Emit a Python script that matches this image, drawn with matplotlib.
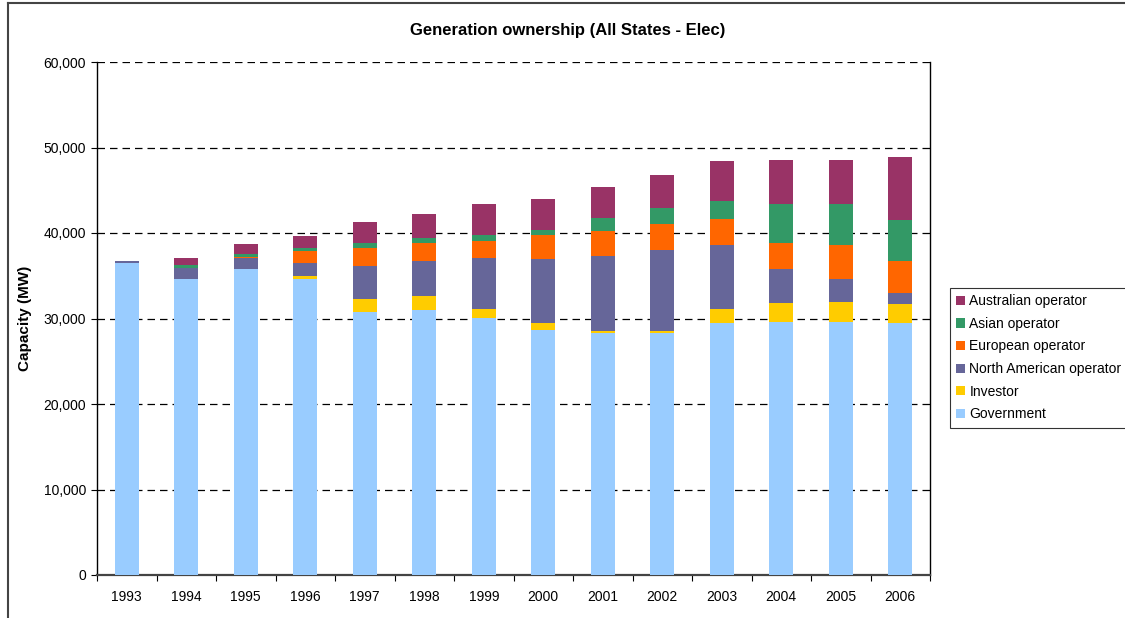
import matplotlib.pyplot as plt
from matplotlib.lines import Line2D
import numpy as np

plt.rcParams['font.family'] = ['Liberation Sans', 'DejaVu Sans']

years = ["1993", "1994", "1995", "1996", "1997", "1998", "1999",
         "2000", "2001", "2002", "2003", "2004", "2005", "2006"]

# capacity by owner type, MW
government = [36450, 34600, 35750, 34650, 30720, 30950, 30010,
              28600, 28290, 28270, 29460, 29540, 29540, 29460]
investor = [0, 0, 0, 280, 1530, 1640, 1090,
            830, 200, 220, 1610, 2230, 2350, 2190]
north_american = [250, 1300, 1300, 1570, 3860, 4140, 5950,
                  7530, 8790, 9500, 7500, 4030, 2690, 1330]
european = [0, 0, 150, 1400, 2120, 2110, 2030,
            2780, 2970, 3050, 3050, 3040, 3990, 3750]
asian = [0, 350, 300, 320, 600, 550, 700,
         590, 1490, 1870, 2110, 4540, 4810, 4770]
australian = [0, 800, 1200, 1400, 2450, 2810, 3600,
              3630, 3630, 3880, 4690, 5160, 5160, 7390]

series = [
    ("Government", government, "#99CCFF"),
    ("Investor", investor, "#FFCC00"),
    ("North American operator", north_american, "#666699"),
    ("European operator", european, "#FF6600"),
    ("Asian operator", asian, "#339966"),
    ("Australian operator", australian, "#993366"),
]

fig = plt.figure(figsize=(11.25, 6.18), dpi=100)
ax = fig.add_axes([97 / 1125, 43 / 618, 833 / 1125, 513 / 618])

x = np.arange(len(years))
bottom = np.zeros(len(years))
handles = []
for name, vals, color in series:
    b = ax.bar(x, vals, width=0.41, bottom=bottom, color=color, label=name,
               zorder=3, linewidth=0)
    handles.append(b)
    bottom += np.array(vals)

ax.set_xlim(-0.5, len(years) - 0.5)
ax.set_ylim(0, 60000)
ax.set_yticks(range(0, 60001, 10000))
ax.set_yticklabels([f"{v:,}" for v in range(0, 60001, 10000)], fontsize=10)
ax.yaxis.grid(True, color="black", linestyle=(0, (6, 4)), linewidth=0.9, zorder=1)
ax.set_axisbelow(True)

# ticks between categories, labels under bar centres
ax.set_xticks(np.arange(-0.5, len(years), 1.0))
ax.set_xticklabels([])
ax.set_xticks(x, minor=True)
ax.set_xticklabels(years, minor=True, fontsize=10)
ax.tick_params(axis="x", which="major", direction="out", length=4, width=0.8)
ax.tick_params(axis="x", which="minor", length=0, pad=11)
ax.tick_params(axis="y", direction="out", length=4, width=0.8, pad=4)

ax.spines["top"].set_visible(False)
ax.spines["right"].set_linewidth(1.0)
ax.spines["left"].set_linewidth(1.0)
ax.spines["bottom"].set_linewidth(1.6)
ax.spines["bottom"].set_color("#444444")

ax.set_ylabel("Capacity (MW)", fontsize=11, fontweight="bold", labelpad=8)
fig.text(568 / 1125, 1 - 30 / 618, "Generation ownership (All States - Elec)",
         ha="center", va="center", fontsize=12, fontweight="bold")

leg = fig.legend(handles[::-1], [s[0] for s in series][::-1],
                 loc="upper left", bbox_to_anchor=(950 / 1125, 1 - 288 / 618),
                 bbox_transform=fig.transFigure, fontsize=10, frameon=True,
                 fancybox=False, shadow=False, handlelength=0.65,
                 handleheight=0.65, handletextpad=0.3, labelspacing=0.62,
                 borderpad=0.45, borderaxespad=0)
leg.get_frame().set_edgecolor("black")
leg.get_frame().set_linewidth(0.8)

# chart area border
fig.add_artist(Line2D([8 / 1125, 1], [1 - 3 / 618, 1 - 3 / 618],
                      transform=fig.transFigure, color="#444444", linewidth=1.5))
fig.add_artist(Line2D([8 / 1125, 8 / 1125], [0, 1 - 3 / 618],
                      transform=fig.transFigure, color="#444444", linewidth=1.5))

fig.savefig("out.png", dpi=100)
